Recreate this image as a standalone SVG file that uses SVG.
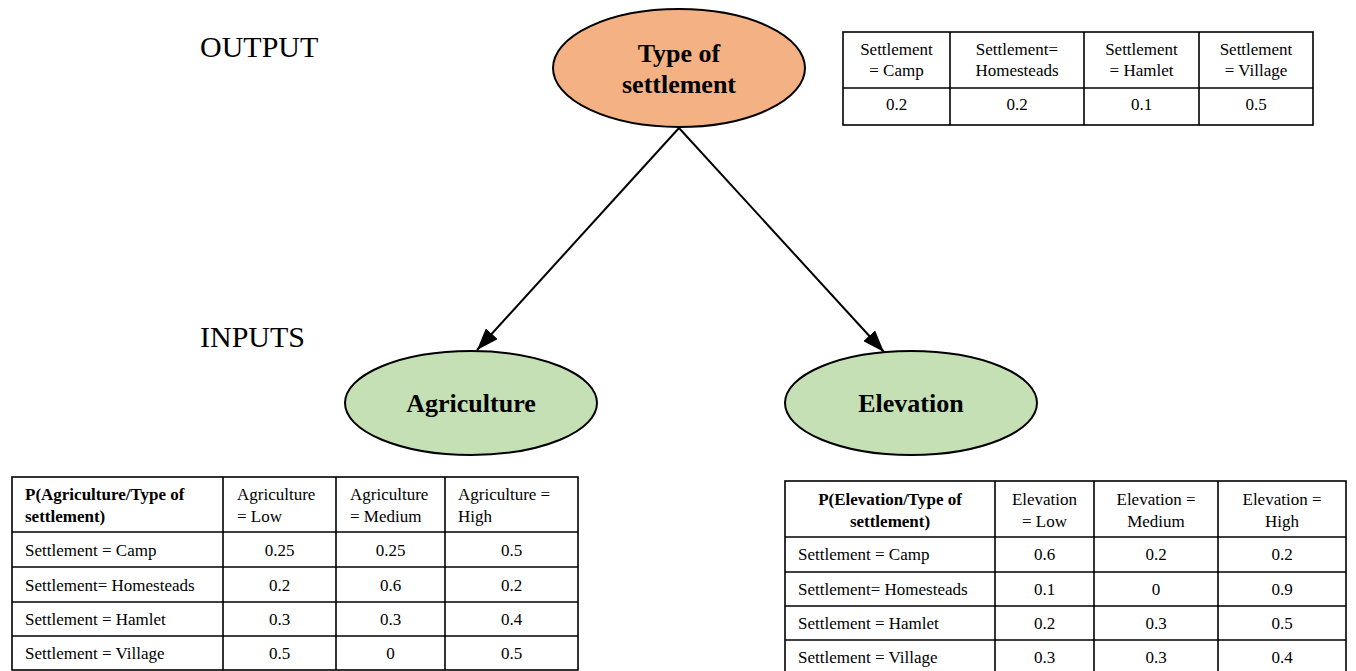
<svg xmlns="http://www.w3.org/2000/svg" width="1356" height="671" viewBox="0 0 1356 671">
<style>
.bg{fill:#ffffff}
.lbl{font-family:"Liberation Serif","Times New Roman",serif;font-size:30px;fill:#000}
.nt{font-family:"Liberation Serif","Times New Roman",serif;font-size:26px;font-weight:bold;fill:#000;text-anchor:middle}
.ell{stroke:#000;stroke-width:2}
.out{fill:#F4B183}
.inp{fill:#C5E0B4}
.grid{fill:none;stroke:#000;stroke-width:1.6}
.t{font-family:"Liberation Serif","Times New Roman",serif;font-size:17px;fill:#000}
.c{text-anchor:middle}
.b{font-weight:bold}
.edge{stroke:#000;stroke-width:2;fill:none}
</style>
<defs>
<marker id="arr" markerUnits="userSpaceOnUse" markerWidth="22" markerHeight="16" refX="22" refY="8" orient="auto">
<path d="M0,0 L22,8 L0,16 z" fill="#000"/>
</marker>
</defs>
<rect class="bg" x="0" y="0" width="1356" height="671"/>

<text class="lbl" x="200" y="57">OUTPUT</text>
<text class="lbl" x="200" y="347">INPUTS</text>

<g id="connectors">
<line class="edge" x1="679" y1="128" x2="477" y2="350" marker-end="url(#arr)"/>
<line class="edge" x1="679" y1="128" x2="884" y2="352" marker-end="url(#arr)"/>
</g>

<g id="node-settlement">
<ellipse class="ell out" cx="679" cy="68" rx="126" ry="59"/>
<text class="nt" x="679" y="62">Type of</text>
<text class="nt" x="679" y="93">settlement</text>
</g>

<g id="node-agriculture">
<ellipse class="ell inp" cx="471" cy="403" rx="126" ry="52"/>
<text class="nt" x="471" y="412">Agriculture</text>
</g>

<g id="node-elevation">
<ellipse class="ell inp" cx="911" cy="403" rx="126" ry="52"/>
<text class="nt" x="911" y="412">Elevation</text>
</g>

<g id="table-settlement">
<rect class="grid" x="843" y="32" width="470" height="93"/>
<line class="grid" x1="843" y1="88" x2="1313" y2="88"/>
<line class="grid" x1="950" y1="32" x2="950" y2="125"/>
<line class="grid" x1="1084" y1="32" x2="1084" y2="125"/>
<line class="grid" x1="1199" y1="32" x2="1199" y2="125"/>
<text class="t c" x="896.5" y="55">Settlement</text>
<text class="t c" x="896.5" y="76">= Camp</text>
<text class="t c" x="1017" y="55">Settlement=</text>
<text class="t c" x="1017" y="76">Homesteads</text>
<text class="t c" x="1141.5" y="55">Settlement</text>
<text class="t c" x="1141.5" y="76">= Hamlet</text>
<text class="t c" x="1256" y="55">Settlement</text>
<text class="t c" x="1256" y="76">= Village</text>
<text class="t c" x="896.5" y="110">0.2</text>
<text class="t c" x="1017" y="110">0.2</text>
<text class="t c" x="1141.5" y="110">0.1</text>
<text class="t c" x="1256" y="110">0.5</text>
</g>

<g id="table-agriculture">
<rect class="grid" x="12" y="477" width="566" height="193"/>
<line class="grid" x1="12" y1="532" x2="578" y2="532"/>
<line class="grid" x1="12" y1="567" x2="578" y2="567"/>
<line class="grid" x1="12" y1="602" x2="578" y2="602"/>
<line class="grid" x1="12" y1="636" x2="578" y2="636"/>
<line class="grid" x1="223" y1="477" x2="223" y2="670"/>
<line class="grid" x1="336" y1="477" x2="336" y2="670"/>
<line class="grid" x1="445" y1="477" x2="445" y2="670"/>
<text class="t b" x="25" y="500">P(Agriculture/Type of</text>
<text class="t b" x="25" y="522">settlement)</text>
<text class="t" x="237" y="500">Agriculture</text>
<text class="t" x="237" y="522">= Low</text>
<text class="t" x="350" y="500">Agriculture</text>
<text class="t" x="350" y="522">= Medium</text>
<text class="t" x="458" y="500">Agriculture =</text>
<text class="t" x="458" y="522">High</text>
<text class="t" x="25" y="556">Settlement = Camp</text>
<text class="t" x="25" y="591">Settlement= Homesteads</text>
<text class="t" x="25" y="625">Settlement = Hamlet</text>
<text class="t" x="25" y="659">Settlement = Village</text>
<text class="t c" x="279.5" y="556">0.25</text>
<text class="t c" x="390.5" y="556">0.25</text>
<text class="t c" x="511.5" y="556">0.5</text>
<text class="t c" x="279.5" y="591">0.2</text>
<text class="t c" x="390.5" y="591">0.6</text>
<text class="t c" x="511.5" y="591">0.2</text>
<text class="t c" x="279.5" y="625">0.3</text>
<text class="t c" x="390.5" y="625">0.3</text>
<text class="t c" x="511.5" y="625">0.4</text>
<text class="t c" x="279.5" y="659">0.5</text>
<text class="t c" x="390.5" y="659">0</text>
<text class="t c" x="511.5" y="659">0.5</text>
</g>

<g id="table-elevation">
<rect class="grid" x="785" y="481" width="561" height="192"/>
<line class="grid" x1="785" y1="537" x2="1346" y2="537"/>
<line class="grid" x1="785" y1="572" x2="1346" y2="572"/>
<line class="grid" x1="785" y1="606" x2="1346" y2="606"/>
<line class="grid" x1="785" y1="640" x2="1346" y2="640"/>
<line class="grid" x1="995" y1="481" x2="995" y2="673"/>
<line class="grid" x1="1094" y1="481" x2="1094" y2="673"/>
<line class="grid" x1="1218" y1="481" x2="1218" y2="673"/>
<text class="t b c" x="890" y="505">P(Elevation/Type of</text>
<text class="t b c" x="890" y="527">settlement)</text>
<text class="t c" x="1044.5" y="505">Elevation</text>
<text class="t c" x="1044.5" y="527">= Low</text>
<text class="t c" x="1156" y="505">Elevation =</text>
<text class="t c" x="1156" y="527">Medium</text>
<text class="t c" x="1282" y="505">Elevation =</text>
<text class="t c" x="1282" y="527">High</text>
<text class="t" x="798" y="560">Settlement = Camp</text>
<text class="t" x="798" y="595">Settlement= Homesteads</text>
<text class="t" x="798" y="629">Settlement = Hamlet</text>
<text class="t" x="798" y="663">Settlement = Village</text>
<text class="t c" x="1044.5" y="560">0.6</text>
<text class="t c" x="1156" y="560">0.2</text>
<text class="t c" x="1282" y="560">0.2</text>
<text class="t c" x="1044.5" y="595">0.1</text>
<text class="t c" x="1156" y="595">0</text>
<text class="t c" x="1282" y="595">0.9</text>
<text class="t c" x="1044.5" y="629">0.2</text>
<text class="t c" x="1156" y="629">0.3</text>
<text class="t c" x="1282" y="629">0.5</text>
<text class="t c" x="1044.5" y="663">0.3</text>
<text class="t c" x="1156" y="663">0.3</text>
<text class="t c" x="1282" y="663">0.4</text>
</g>
</svg>
